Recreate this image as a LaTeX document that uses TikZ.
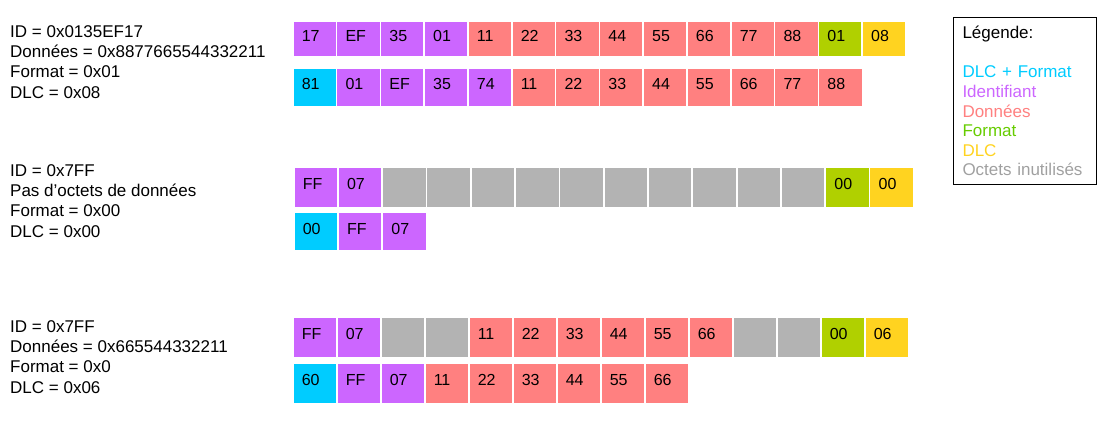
\documentclass[tikz,border=0pt]{standalone}
\usepackage{fontspec}
\setmainfont{Liberation Sans}
\usepackage{xcolor}
\usepackage{tikz}

\definecolor{ident}{HTML}{CC66FF}
\definecolor{donnees}{HTML}{FF8080}
\definecolor{dlcfmt}{HTML}{00CCFF}
\definecolor{fmt}{HTML}{B0D000}
\definecolor{dlc}{HTML}{FFD320}
\definecolor{inutil}{HTML}{B3B3B3}
\definecolor{fmttxt}{HTML}{66CC00}
\definecolor{inutiltxt}{HTML}{A0A0A0}

\begin{document}
\begin{tikzpicture}[x=1pt, y=-1pt,
  octet/.style={rectangle, draw=white, line width=1.5pt, anchor=north west,
                minimum width=44pt, inner xsep=9pt, text width=26pt, align=left,
                text height=12pt, text depth=7pt, font=\fontsize{16}{19}\selectfont},
  info/.style={anchor=base west, align=left, inner sep=0pt,
               font=\fontsize{17}{20.2}\selectfont},
  legende/.style={rectangle, draw=black, line width=1pt, anchor=north west,
                  minimum width=143pt, minimum height=167pt, text width=125pt,
                  inner xsep=9pt, align=left, font=\fontsize{17}{19.6}\selectfont}
]
\useasboundingbox (0,0) rectangle (1115,436);

% trame 1
\node[info] (g1) at (10,98) {ID = 0x0135EF17\\Données = 0x8877665544332211\\Format = 0x01\\DLC = 0x08};
\foreach \v/\c [count=\i] in {17/ident,EF/ident,35/ident,01/ident,11/donnees,22/donnees,33/donnees,
    44/donnees,55/donnees,66/donnees,77/donnees,88/donnees,01/fmt,08/dlc}
  \node[octet, fill=\c, minimum height=35.5pt] (a\i) at ({292+43.8*(\i-1)},20.5) {\v};
\foreach \v/\c [count=\i] in {81/dlcfmt,01/ident,EF/ident,35/ident,74/ident,11/donnees,22/donnees,
    33/donnees,44/donnees,55/donnees,66/donnees,77/donnees,88/donnees}
  \node[octet, fill=\c, minimum height=39pt] (b\i) at ({292+43.8*(\i-1)},67) {\v};

% trame 2
\node[info] (g2) at (10,237) {ID = 0x7FF\\Pas d'octets de données\\Format = 0x00\\DLC = 0x00};
\foreach \v/\c [count=\i] in {FF/ident,07/ident, /inutil, /inutil, /inutil, /inutil, /inutil,
    /inutil, /inutil, /inutil, /inutil, /inutil,00/fmt,00/dlc}
  \node[octet, fill=\c, minimum height=40pt] (c\i) at ({293+44.3*(\i-1)},166.5) {\v};
\foreach \v/\c [count=\i] in {00/dlcfmt,FF/ident,07/ident}
  \node[octet, fill=\c, minimum height=38.5pt] (d\i) at ({293+44.3*(\i-1)},211.5) {\v};

% trame 3
\node[info] (g3) at (10,393) {ID = 0x7FF\\Données = 0x665544332211\\Format = 0x0\\DLC = 0x06};
\foreach \v/\c [count=\i] in {FF/ident,07/ident, /inutil, /inutil,11/donnees,22/donnees,33/donnees,
    44/donnees,55/donnees,66/donnees, /inutil, /inutil,00/fmt,06/dlc}
  \node[octet, fill=\c, minimum height=40pt] (e\i) at ({292+44*(\i-1)},316.5) {\v};
\foreach \v/\c [count=\i] in {60/dlcfmt,FF/ident,07/ident,11/donnees,22/donnees,33/donnees,
    44/donnees,55/donnees,66/donnees}
  \node[octet, fill=\c, minimum height=40pt] (f\i) at ({292+44*(\i-1)},362.5) {\v};

% legende
\node[legende] (leg) at (953,17) {Légende:\\[20pt]
  \textcolor{dlcfmt}{DLC + Format}\\
  \textcolor{ident}{Identifiant}\\
  \textcolor{donnees}{Données}\\
  \textcolor{fmttxt}{Format}\\
  \textcolor{dlc}{DLC}\\
  \textcolor{inutiltxt}{Octets inutilisés}};
\end{tikzpicture}
\end{document}
